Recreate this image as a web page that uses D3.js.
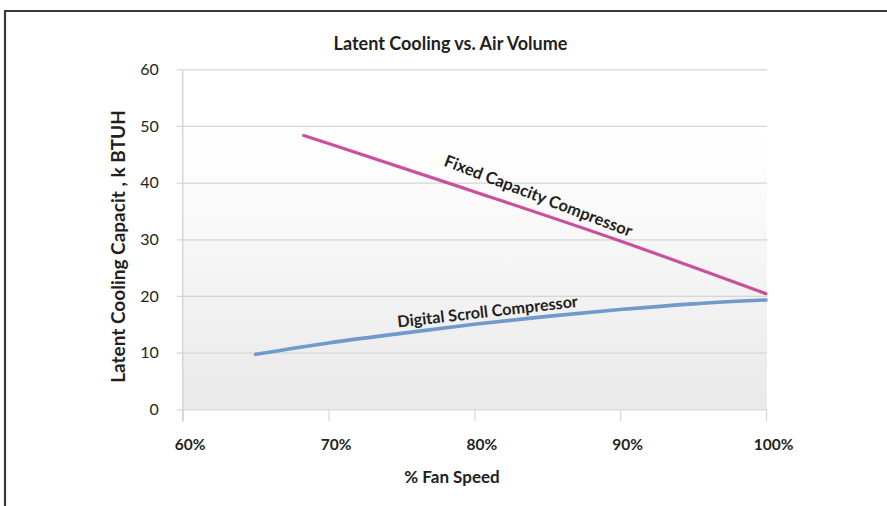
<!DOCTYPE html>
<html>
<head>
<meta charset="utf-8">
<script src="https://cdn.jsdelivr.net/npm/d3@7"></script>
<style>
  html, body { margin: 0; padding: 0; background: #fff; }
  svg { display: block; }
  text { font-family: "Lato", "Open Sans", "DejaVu Sans", sans-serif; fill: #231f20; }
</style>
</head>
<body>
<svg id="chart" width="887" height="506"></svg>
<script>
// Fan speed (%) tick values and capacity ticks (k BTUH)
const xTicks = [60, 70, 80, 90, 100];
const yTicks = [0, 10, 20, 30, 40, 50, 60];

// Fixed capacity compressor: latent cooling vs fan speed
const fixedFan = [68.3, 70, 80, 90, 100];
const fixedCap = [48.3, 46.9, 38.4, 29.7, 20.4];

// Digital scroll compressor: latent cooling vs fan speed
const digitalFan = [65, 70, 75, 80, 85, 90, 95, 100];
const digitalCap = [9.7, 11.7, 13.4, 15.0, 16.4, 17.6, 18.6, 19.3];

const titleText = "Latent Cooling vs. Air Volume";
const xTitle = "% Fan Speed";
const yTitle = "Latent Cooling Capacit , k BTUH";
const fixedLabel = "Fixed Capacity Compressor";
const digitalLabel = "Digital Scroll Compressor";

const svg = d3.select("#chart");
const plotLeft = 182.7, plotRight = 766, plotTop = 69.3, plotBottom = 409.3;

const x = d3.scaleLinear().domain([60, 100]).range([plotLeft, plotRight]);
const y = d3.scaleLinear().domain([0, 60]).range([plotBottom, plotTop]);

// outer frame (top and left rules)
svg.append("path")
  .attr("d", "M5,506V11H887")
  .attr("fill", "none")
  .attr("stroke", "#3a3a3a")
  .attr("stroke-width", 2.2);

// plot background gradient
const defs = svg.append("defs");
const grad = defs.append("linearGradient")
  .attr("id", "plotBg").attr("x1", 0).attr("y1", 0).attr("x2", 0).attr("y2", 1);
grad.append("stop").attr("offset", "0%").attr("stop-color", "#ffffff");
grad.append("stop").attr("offset", "25%").attr("stop-color", "#fefefe");
grad.append("stop").attr("offset", "100%").attr("stop-color", "#e9e9e9");

svg.append("rect")
  .attr("x", plotLeft).attr("y", plotTop)
  .attr("width", plotRight - plotLeft + 1).attr("height", plotBottom - plotTop)
  .attr("fill", "url(#plotBg)");

// horizontal gridlines via y axis
const yAxis = d3.axisLeft(y).tickValues(yTicks)
  .tickSize(-(plotRight - plotLeft + 1) - 6).tickSizeOuter(0).tickPadding(18);
const gy = svg.append("g").attr("transform", `translate(${plotLeft - 6},0)`).call(yAxis);
gy.select(".domain").remove();
gy.selectAll(".tick line").attr("stroke", "#d6d6d6").attr("stroke-width", 1.2);
gy.selectAll(".tick text")
  .attr("font-size", 16).attr("fill", "#333")
  .attr("x", -18)
  .style("font-family", "Lato, sans-serif");

// vertical axis line
svg.append("line")
  .attr("x1", plotLeft).attr("x2", plotLeft)
  .attr("y1", plotTop).attr("y2", plotBottom + 12)
  .attr("stroke", "#d6d6d6").attr("stroke-width", 1.5);

// x axis ticks
const xAxis = d3.axisBottom(x).tickValues(xTicks)
  .tickSize(12).tickSizeOuter(0).tickPadding(18)
  .tickFormat(d => d + "%");
const gx = svg.append("g").attr("transform", `translate(0,${plotBottom})`).call(xAxis);
gx.select(".domain").remove();
gx.selectAll(".tick line").attr("stroke", "#d6d6d6").attr("stroke-width", 1.2);
gx.selectAll(".tick text")
  .attr("font-size", 15.5).attr("font-weight", "bold")
  .attr("fill", "#231f20").attr("dx", 7);

// series lines
const line = d3.line().x(d => x(d[0])).y(d => y(d[1])).curve(d3.curveMonotoneX);

svg.append("path")
  .datum(fixedFan.map((f, i) => [f, fixedCap[i]]))
  .attr("d", line)
  .attr("fill", "none").attr("stroke", "#c9519b").attr("stroke-width", 3.2)
  .attr("stroke-linecap", "round");

svg.append("path")
  .datum(digitalFan.map((f, i) => [f, digitalCap[i]]))
  .attr("d", line)
  .attr("fill", "none").attr("stroke", "#6f9ac9").attr("stroke-width", 3.6)
  .attr("stroke-linecap", "round");

// series labels set along the lines
svg.append("text")
  .attr("transform", `translate(${x(84.4)},${y(37.7)}) rotate(21)`)
  .attr("text-anchor", "middle").attr("dominant-baseline", "central")
  .attr("font-size", 16.5).attr("font-weight", "bold")
  .text(fixedLabel);

svg.append("text")
  .attr("transform", `translate(${x(80.9)},${y(17.4)}) rotate(-6.5)`)
  .attr("text-anchor", "middle").attr("dominant-baseline", "central")
  .attr("font-size", 16.2).attr("font-weight", "bold")
  .text(digitalLabel);

// titles
svg.append("text")
  .attr("x", 450.5).attr("y", 50)
  .attr("text-anchor", "middle")
  .attr("font-size", 18).attr("font-weight", "bold")
  .text(titleText);

svg.append("text")
  .attr("x", 452).attr("y", 483)
  .attr("text-anchor", "middle")
  .attr("font-size", 17).attr("font-weight", "bold")
  .text(xTitle);

svg.append("text")
  .attr("transform", `translate(125,246.5) rotate(-90)`)
  .attr("text-anchor", "middle")
  .attr("font-size", 19).attr("font-weight", "bold")
  .text(yTitle);
</script>
</body>
</html>
